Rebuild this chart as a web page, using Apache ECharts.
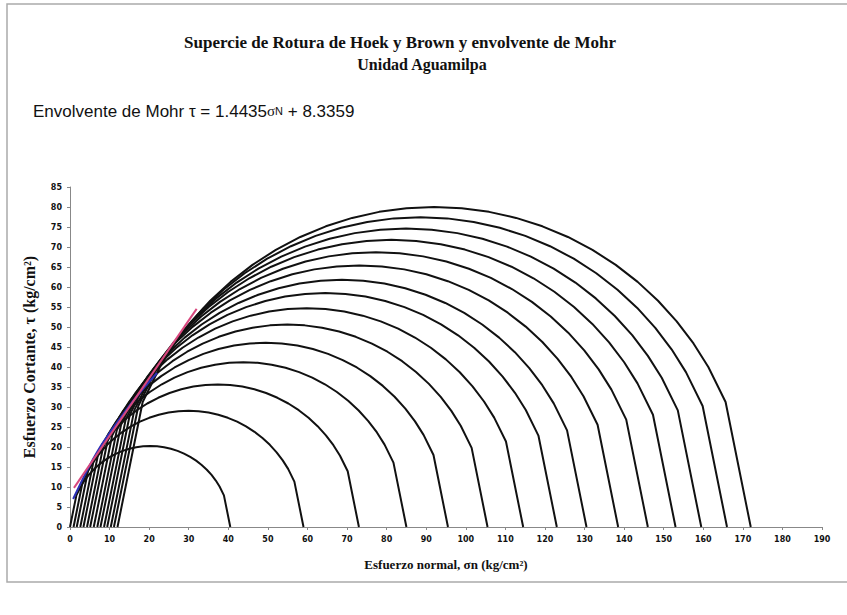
<!DOCTYPE html>
<html>
<head>
<meta charset="utf-8">
<script src="https://cdn.jsdelivr.net/npm/echarts@6/dist/echarts.min.js"></script>
<style>
  html, body { margin: 0; padding: 0; background: #fff; }
  #chart { width: 847px; height: 615px; }
</style>
</head>
<body>
<div id="chart"></div>
<script>
// Mohr circles: minor and major principal stress for each test state (kg/cm²)
const sigma3 = [0, 0.9, 1.7, 2.6, 3.4, 4.3, 5.1, 6.0, 6.9, 7.7, 8.6, 9.4, 10.3, 11.1, 12.0];
const sigma1 = [40.5, 59, 73, 85, 95.5, 105.5, 114.5, 123, 130.5, 138.5, 146, 153, 159.5, 166, 172];

// Linear Mohr envelope: tau = a * sigmaN + b, drawn over this sigmaN range
const envSlope = 1.4435;
const envIntercept = 8.3359;
const envRange = [1, 32];

// Curved Hoek-Brown envelope (sigmaN, tau)
const hbSigma = [0.8, 2, 4, 7, 10, 14, 18, 22];
const hbTau   = [7.0, 9.5, 13.5, 19, 23.5, 29, 34, 38.5];

// Axis ticks
const xTicks = { min: 0, max: 190, step: 10 };
const yTicks = { min: 0, max: 85, step: 5 };

// Angles (degrees) at which each circle's upper half is sampled
const arcAngles = [180, 157, 150, 145, 140, 135, 130, 125, 120, 115, 110, 105, 100, 95, 90,
                   85, 80, 75, 70, 65, 60, 55, 50, 45, 40, 35, 30, 23, 0];

function circlePoints(s3, s1) {
  const c = (s1 + s3) / 2, r = (s1 - s3) / 2;
  return arcAngles.map(a => {
    const t = a * Math.PI / 180;
    return [c + r * Math.cos(t), r * Math.sin(t)];
  });
}

const series = [];
sigma3.forEach((s3, i) => {
  series.push({
    type: 'line', data: circlePoints(s3, sigma1[i]), showSymbol: false, smooth: false,
    lineStyle: { color: '#111', width: 2 }, z: 2, silent: true
  });
});
series.push({
  type: 'line', showSymbol: false,
  data: hbSigma.map((s, i) => [s, hbTau[i]]),
  smooth: true, lineStyle: { color: '#2a2fb5', width: 2 }, z: 3
});
series.push({
  type: 'line', showSymbol: false,
  data: envRange.map(s => [s, envSlope * s + envIntercept]),
  lineStyle: { color: '#d8487e', width: 2 }, z: 4
});

const chart = echarts.init(document.getElementById('chart'), null, { renderer: 'svg' });
const tickFont = { fontFamily: 'DejaVu Sans', fontWeight: 'bold', fontSize: 8, color: '#111' };

chart.setOption({
  animation: false,
  backgroundColor: '#fff',
  grid: { left: 70, right: 25, top: 187, bottom: 88 },
  xAxis: {
    type: 'value', min: xTicks.min, max: xTicks.max, interval: xTicks.step,
    axisLine: { lineStyle: { color: '#888', width: 1 } },
    axisTick: { show: true, length: 3, lineStyle: { color: '#888' } },
    splitLine: { show: false },
    axisLabel: Object.assign({ margin: 8 }, tickFont),
    name: 'Esfuerzo normal, σn (kg/cm²)', nameLocation: 'middle', nameGap: 31,
    nameTextStyle: { fontFamily: 'Liberation Serif', fontWeight: 'bold', fontSize: 13, color: '#111' }
  },
  yAxis: {
    type: 'value', min: yTicks.min, max: yTicks.max, interval: yTicks.step,
    axisLine: { show: true, lineStyle: { color: '#888', width: 1 } },
    axisTick: { show: true, length: 3, lineStyle: { color: '#888' } },
    splitLine: { show: false },
    axisLabel: Object.assign({ margin: 8 }, tickFont),
    name: 'Esfuerzo Cortante, τ (kg/cm²)', nameLocation: 'middle', nameGap: 33, nameRotate: 90,
    nameTextStyle: { fontFamily: 'Liberation Serif', fontWeight: 'bold', fontSize: 16, color: '#111' }
  },
  graphic: [
    { type: 'rect', shape: { x: 7, y: 4, width: 850, height: 578 },
      style: { fill: 'none', stroke: '#aaa', lineWidth: 1.5 }, silent: true },
    { type: 'text', x: 400, y: 42,
      style: { text: 'Supercie de Rotura de Hoek y Brown y envolvente de Mohr', fill: '#111',
        font: 'bold 17px "Liberation Serif"', textAlign: 'center', textVerticalAlign: 'middle' } },
    { type: 'text', x: 422, y: 64,
      style: { text: 'Unidad Aguamilpa', fill: '#111',
        font: 'bold 16px "Liberation Serif"', textAlign: 'center', textVerticalAlign: 'middle' } },
    { type: 'text', x: 33, y: 111,
      style: {
        text: '{a|Envolvente de Mohr τ = 1.4435}{s|σ}{n|N}{a| + 8.3359}',
        textVerticalAlign: 'middle',
        rich: {
          a: { fontFamily: '"Liberation Sans"', fontSize: 17, fill: '#111' },
          s: { fontFamily: '"Liberation Serif"', fontSize: 15, fill: '#111' },
          n: { fontFamily: '"Liberation Sans"', fontSize: 11, fill: '#111' }
        }
      } }
  ],
  series: series
});
</script>
</body>
</html>
